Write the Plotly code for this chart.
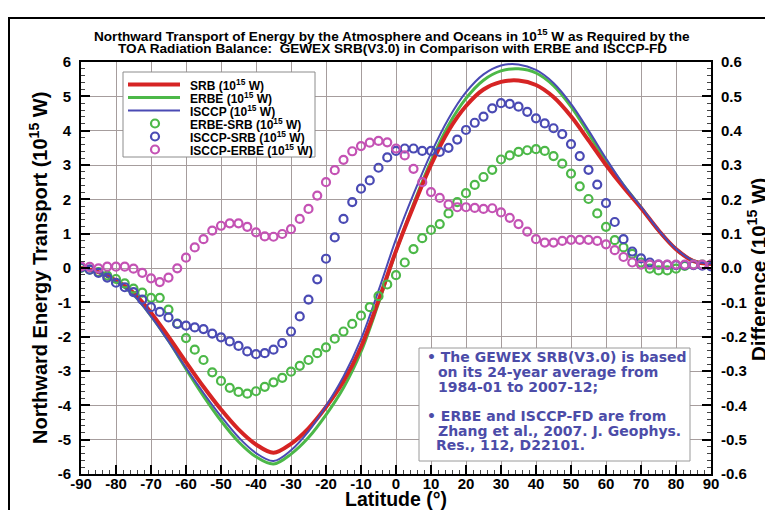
import plotly.graph_objects as go

# ---------------- data ----------------
lat_line = [-90, -85, -80, -75, -70, -65, -60, -55, -50, -45, -40, -35, -30, -25, -20, -15, -10, -5,
            0, 5, 10, 15, 20, 25, 30, 35, 40, 45, 50, 55, 60, 65, 70, 75, 80, 85, 90]

srb = [0.0, -0.12, -0.36, -0.72, -1.3, -2.0, -2.74, -3.46, -4.12, -4.7, -5.14, -5.38, -5.12, -4.67,
       -4.05, -3.3, -2.3, -0.95, 0.5, 1.8, 3.0, 4.0, 4.72, 5.2, 5.42, 5.46, 5.33, 4.98, 4.42, 3.72, 3.0,
       2.35, 1.75, 1.1, 0.55, 0.2, 0.12]

erbe = [0.0, -0.13, -0.39, -0.78, -1.39, -2.12, -2.94, -3.73, -4.45, -5.06, -5.5, -5.71, -5.42, -4.94,
        -4.28, -3.49, -2.44, -1.03, 0.48, 1.86, 3.11, 4.16, 4.94, 5.47, 5.74, 5.8, 5.68, 5.31, 4.7,
        3.92, 3.12, 2.41, 1.77, 1.09, 0.55, 0.21, 0.13]

isccp = [0.0, -0.13, -0.4, -0.79, -1.41, -2.14, -2.91, -3.64, -4.32, -4.93, -5.39, -5.62, -5.31, -4.76,
         -4.02, -3.16, -2.07, -0.66, 0.84, 2.15, 3.34, 4.35, 5.12, 5.64, 5.9, 5.93, 5.77, 5.39, 4.78,
         4.01, 3.19, 2.43, 1.78, 1.11, 0.56, 0.21, 0.13]

lat_diff = [-90 + 2.5 * i for i in range(73)]

erbe_srb = [0.0, -0.005, -0.012, -0.022, -0.032, -0.045, -0.06, -0.072, -0.087, -0.087, -0.121, -0.162,
            -0.204, -0.238, -0.268, -0.304, -0.329, -0.349, -0.361, -0.366, -0.359, -0.346, -0.333,
            -0.32, -0.302, -0.285, -0.268, -0.248, -0.231, -0.206, -0.185, -0.163, -0.139, -0.114,
            -0.082, -0.048, -0.021, 0.016, 0.055, 0.087, 0.111, 0.128, 0.159, 0.192, 0.218, 0.242,
            0.265, 0.286, 0.316, 0.328, 0.338, 0.343, 0.346, 0.341, 0.326, 0.304, 0.275, 0.238,
            0.201, 0.159, 0.12, 0.081, 0.06, 0.041, 0.016, -0.002, -0.007, -0.007, -0.002, 0.006,
            0.01, 0.01, 0.01]

isccp_srb = [0.002, -0.005, -0.014, -0.028, -0.043, -0.056, -0.07, -0.092, -0.114, -0.128, -0.144,
             -0.163, -0.168, -0.173, -0.178, -0.191, -0.202, -0.214, -0.227, -0.243, -0.251, -0.248,
             -0.238, -0.219, -0.185, -0.141, -0.092, -0.033, 0.027, 0.089, 0.143, 0.192, 0.231,
             0.255, 0.292, 0.322, 0.341, 0.348, 0.348, 0.341, 0.341, 0.338, 0.35, 0.374, 0.402,
             0.423, 0.441, 0.465, 0.48, 0.478, 0.47, 0.455, 0.436, 0.421, 0.407, 0.39, 0.361, 0.326,
             0.286, 0.243, 0.189, 0.134, 0.084, 0.048, 0.028, 0.016, 0.01, 0.009, 0.008, 0.008,
             0.008, 0.007, 0.005]

isccp_erbe = [0.005, 0.003, -0.001, 0.004, 0.004, 0.004, -0.002, -0.014, -0.03, -0.041, -0.028, -0.001,
              0.03, 0.06, 0.084, 0.109, 0.123, 0.13, 0.13, 0.12, 0.104, 0.092, 0.091, 0.099, 0.113,
              0.143, 0.172, 0.211, 0.25, 0.285, 0.315, 0.34, 0.355, 0.365, 0.37, 0.366, 0.348, 0.328,
              0.289, 0.25, 0.221, 0.204, 0.185, 0.177, 0.177, 0.175, 0.172, 0.174, 0.162, 0.146,
              0.128, 0.106, 0.084, 0.074, 0.074, 0.079, 0.082, 0.082, 0.082, 0.079, 0.069, 0.052,
              0.032, 0.016, 0.01, 0.01, 0.01, 0.01, 0.01, 0.01, 0.01, 0.01, 0.01]

x_ticks = list(range(-90, 91, 10))
y_ticks = list(range(-6, 7))
y2_ticks = [round(-0.6 + 0.1 * i, 1) for i in range(13)]

legend_names = ["SRB (10<sup>15</sup> W)", "ERBE (10<sup>15</sup> W)", "ISCCP (10<sup>15</sup> W)",
                "ERBE-SRB (10<sup>15</sup> W)", "ISCCP-SRB (10<sup>15</sup> W)", "ISCCP-ERBE (10<sup>15</sup> W)"]

note_lines = ["• The GEWEX SRB(V3.0) is based", "on its 24-year average from", "1984-01 to 2007-12;",
              "• ERBE and ISCCP-FD are from", "Zhang et al., 2007. J. Geophys.", "Res., 112, D22101."]

title_lines = ["Northward Transport of Energy by the Atmosphere and Oceans in 10<sup>15</sup> W as Required by the",
               "TOA Radiation Balance:  GEWEX SRB(V3.0) in Comparison with ERBE and ISCCP-FD"]

# ---------------- styles ----------------
RED = "#d62424"
GREEN = "#4cb848"
BLUE = "#4a4ab4"
MAG = "#c452b4"
NOTE = "#4c4ca8"
GRID = "#a69d9d"
FONT = "Liberation Sans, Arial, sans-serif"
NFONT = "DejaVu Sans, Verdana, sans-serif"

# page body has an 8px margin: figure pixel = window pixel - 8
OFF = 8
W, H = 765, 502
ML, MR, MT, MB = 73, 62, 54, 36
PW, PH = W - ML - MR, H - MT - MB


def px(xw):
    return (xw - OFF - ML) / PW


def py(yw):
    return (H - MB - (yw - OFF)) / PH


fig = go.Figure()

for vals, col, wd, nm in [(erbe, GREEN, 3, "ERBE"), (srb, RED, 4, "SRB"), (isccp, BLUE, 2, "ISCCP")]:
    fig.add_trace(go.Scatter(x=lat_line, y=vals, mode="lines", name=nm, showlegend=False,
                             line=dict(color=col, width=wd, shape="spline", smoothing=1.0)))

for nm, vals, col in [("ERBE-SRB", erbe_srb, GREEN), ("ISCCP-SRB", isccp_srb, BLUE),
                      ("ISCCP-ERBE", isccp_erbe, MAG)]:
    fig.add_trace(go.Scatter(x=lat_diff, y=vals, mode="markers", name=nm, yaxis="y2", showlegend=False,
                             marker=dict(symbol="circle-open", size=8, color=col,
                                         line=dict(width=2.2, color=col))))

axis_font = dict(family=FONT, size=15, color="black", weight="bold")
minor_common = dict(ticks="inside", ticklen=4, tickwidth=1, tickcolor="#444", showgrid=False)

fig.update_layout(
    width=W, height=H,
    margin=dict(l=ML, r=MR, t=MT, b=MB),
    paper_bgcolor="white", plot_bgcolor="white",
    font=dict(family=FONT, color="black"),
    showlegend=False,
    xaxis=dict(range=[-90, 90], tickvals=x_ticks, ticktext=[str(v) for v in x_ticks],
               ticks="inside", ticklen=9, tickwidth=2, tickcolor="black",
               showline=True, linecolor="black", linewidth=2, mirror=True,
               showgrid=True, gridcolor=GRID, gridwidth=1, zeroline=False,
               tickfont=axis_font, automargin=False, ticklabelstandoff=-5,
               minor=dict(dtick=2, **minor_common)),
    yaxis=dict(range=[-6, 6], tickvals=y_ticks, ticktext=[str(v) for v in y_ticks],
               ticks="inside", ticklen=9, tickwidth=2, tickcolor="black",
               showline=True, linecolor="black", linewidth=2,
               showgrid=True, gridcolor=GRID, gridwidth=1, zeroline=False,
               tickfont=axis_font, automargin=False, ticklabelstandoff=5,
               minor=dict(dtick=0.2, **minor_common)),
    yaxis2=dict(range=[-0.6, 0.6], overlaying="y", side="right",
                tickvals=y2_ticks, ticktext=["%.1f" % v for v in y2_ticks],
                ticks="inside", ticklen=9, tickwidth=2, tickcolor="black",
                showline=True, linecolor="black", linewidth=2,
                showgrid=False, zeroline=False, tickfont=axis_font, automargin=False,
                ticklabelstandoff=5,
                minor=dict(dtick=0.02, **minor_common)),
)

# axis titles
fig.add_annotation(xref="paper", yref="paper", x=px(396), y=py(499), xanchor="center", yanchor="middle",
                   showarrow=False, text="Latitude (°)",
                   font=dict(family=FONT, size=19.5, color="black", weight="bold"))
fig.add_annotation(xref="paper", yref="paper", x=px(38), y=py(268), xanchor="center", yanchor="middle",
                   showarrow=False, textangle=-90, text="Northward Energy Transport (10<sup>15</sup> W)",
                   font=dict(family=FONT, size=20, color="black", weight="bold"))
fig.add_annotation(xref="paper", yref="paper", x=px(757), y=py(270), xanchor="center", yanchor="middle",
                   showarrow=False, textangle=-90, text="Difference (10<sup>15</sup> W)",
                   font=dict(family=FONT, size=20.5, color="black", weight="bold"))

# two-line title
for i, t in enumerate(title_lines):
    fig.add_annotation(xref="paper", yref="paper", x=px(392), y=py(35 + 13 * i),
                       xanchor="center", yanchor="middle", showarrow=False, text=t,
                       font=dict(family=FONT, size=13.6, color="black", weight="bold"))

# custom legend
fig.add_shape(type="rect", xref="paper", yref="paper", x0=px(123), x1=px(315), y0=py(157), y1=py(72),
              line=dict(color="#8c8c8c", width=1), fillcolor="white", layer="above")
leg_styles = [("line", RED, 4), ("line", GREEN, 3), ("line", BLUE, 2),
              ("marker", GREEN, 2.2), ("marker", BLUE, 2.2), ("marker", MAG, 2.2)]
for i, (nm, (kind, col, wd)) in enumerate(zip(legend_names, leg_styles)):
    yy = 84.5 + 13.0 * i
    if kind == "line":
        fig.add_shape(type="line", xref="paper", yref="paper", x0=px(128), x1=px(180), y0=py(yy), y1=py(yy),
                      line=dict(color=col, width=wd), layer="above")
    else:
        fig.add_shape(type="circle", xref="paper", yref="paper", xsizemode="pixel", ysizemode="pixel",
                      xanchor=px(155), yanchor=py(yy), x0=-4, x1=4, y0=-4, y1=4,
                      line=dict(color=col, width=wd), fillcolor="rgba(0,0,0,0)", layer="above")
    fig.add_annotation(xref="paper", yref="paper", x=px(188), y=py(yy), xanchor="left", yanchor="middle",
                       showarrow=False, text=nm,
                       font=dict(family=FONT, size=12, color="black", weight="bold"))

# note box
fig.add_shape(type="rect", xref="paper", yref="paper", x0=px(419), x1=px(690), y0=py(461), y1=py(348),
              line=dict(color="#9a9a9a", width=1), fillcolor="white", layer="above")
note_y = [357, 372, 386.5, 416, 430.5, 445]
note_x = [425, 436, 436, 425, 436, 434]
for t, yy, xx in zip(note_lines, note_y, note_x):
    fig.add_annotation(xref="paper", yref="paper", x=px(xx), y=py(yy), xanchor="left", yanchor="middle",
                       showarrow=False, text=t,
                       font=dict(family=NFONT, size=14, color=NOTE, weight="bold"))

# outer frame
fig.add_shape(type="rect", xref="paper", yref="paper",
              x0=px(9), x1=px(800), y0=-0.3, y1=py(18),
              line=dict(color="black", width=2), fillcolor="rgba(0,0,0,0)", layer="below")

fig.write_html("out.html")
